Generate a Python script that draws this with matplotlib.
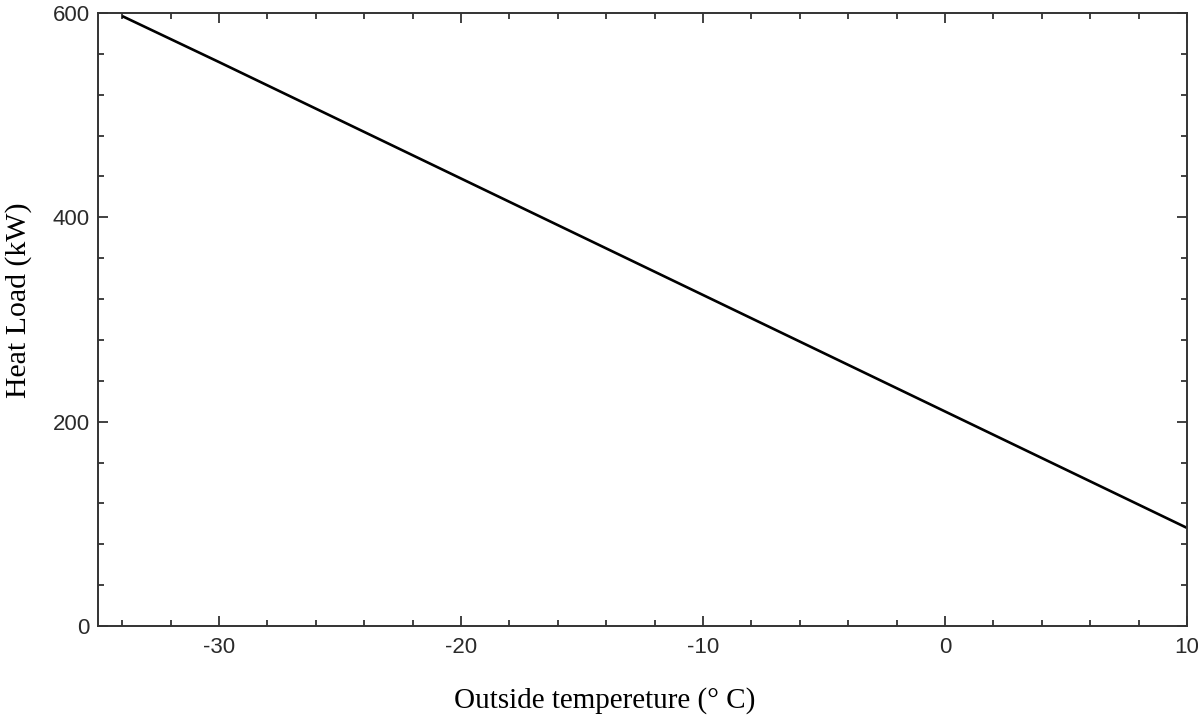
import matplotlib
matplotlib.use("Agg")
import matplotlib.pyplot as plt
from matplotlib.ticker import MultipleLocator

# heat load vs outside temperature
temperature = [-34, -30, -20, -10, 0, 10]
heat_load = [597, 552, 438, 324, 210, 96]

x_ticks = [-30, -20, -10, 0, 10]
y_ticks = [0, 200, 400, 600]

plt.rcParams["axes.unicode_minus"] = False

fig = plt.figure(figsize=(11.98, 7.15), dpi=100)
ax = fig.add_axes([0.0818, 0.1245, 0.9090, 0.8573])

ax.plot(temperature, heat_load, color="black", linewidth=1.9, solid_capstyle="butt")

ax.set_xlim(-35, 10)
ax.set_ylim(0, 600)
ax.set_xticks(x_ticks)
ax.set_yticks(y_ticks)
ax.xaxis.set_minor_locator(MultipleLocator(2))
ax.yaxis.set_minor_locator(MultipleLocator(40))

ax.tick_params(which="both", direction="in", top=True, right=True,
               colors="#333333", labelcolor="#2a2a2a")
ax.tick_params(which="major", length=7, width=1.3)
ax.tick_params(which="minor", length=4, width=1.3)
ax.tick_params(axis="x", which="major", pad=8)
ax.tick_params(axis="y", which="major", pad=6)

for lbl in ax.get_xticklabels() + ax.get_yticklabels():
    lbl.set_fontfamily("Liberation Sans")
    lbl.set_fontsize(16)

for spine in ax.spines.values():
    spine.set_linewidth(1.4)
    spine.set_color("#333333")

ax.set_xlabel("Outside tempereture (° C)", family="Liberation Serif", fontsize=21)
ax.set_ylabel("Heat Load (kW)", family="Liberation Serif", fontsize=21.5)
ax.xaxis.set_label_coords(0.4656, -0.1)
ax.yaxis.set_label_coords(-0.061, 0.532)

fig.savefig("out.png", dpi=100)
